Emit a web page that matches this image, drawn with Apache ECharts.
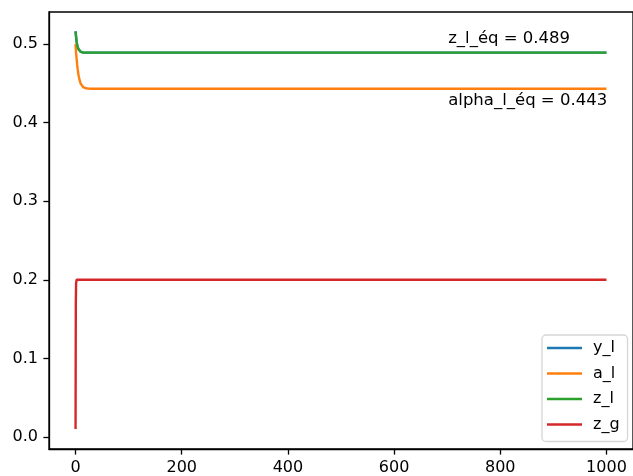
<!DOCTYPE html>
<html><head><meta charset="utf-8">
<script src="https://cdn.jsdelivr.net/npm/echarts@6/dist/echarts.min.js"></script>
<style>html,body{margin:0;padding:0;background:#fff}#c{width:633px;height:476px}</style>
</head><body><div id="c"></div>
<script>
// time points
const t   = [0, 0.5, 1, 2, 3, 4, 5, 6, 8, 10, 12, 15, 20, 25, 30, 40, 50, 100, 200, 300, 400, 500, 600, 700, 800, 900, 1000];
// series values
const zL  = [0.516, 0.513, 0.509, 0.503, 0.499, 0.496, 0.494, 0.493, 0.491, 0.490, 0.4895, 0.489, 0.489, 0.489, 0.489, 0.489, 0.489, 0.489, 0.489, 0.489, 0.489, 0.489, 0.489, 0.489, 0.489, 0.489, 0.489];
const yL  = [0.516, 0.513, 0.509, 0.503, 0.499, 0.496, 0.494, 0.493, 0.491, 0.490, 0.4895, 0.489, 0.489, 0.489, 0.489, 0.489, 0.489, 0.489, 0.489, 0.489, 0.489, 0.489, 0.489, 0.489, 0.489, 0.489, 0.489];
const aL  = [0.500, 0.494, 0.489, 0.481, 0.474, 0.468, 0.463, 0.459, 0.453, 0.449, 0.4465, 0.4447, 0.4437, 0.4432, 0.443, 0.443, 0.443, 0.443, 0.443, 0.443, 0.443, 0.443, 0.443, 0.443, 0.443, 0.443, 0.443];
const zG  = [0.010, 0.170, 0.195, 0.200, 0.200, 0.200, 0.200, 0.200, 0.200, 0.200, 0.200, 0.200, 0.200, 0.200, 0.200, 0.200, 0.200, 0.200, 0.200, 0.200, 0.200, 0.200, 0.200, 0.200, 0.200, 0.200, 0.200];
const seriesNames = ['y_l', 'a_l', 'z_l', 'z_g'];
const xTicks = [0, 200, 400, 600, 800, 1000];
const yTicks = [0, 0.1, 0.2, 0.3, 0.4, 0.5];
// annotations
const annX = 700;
const zEqText = 'z_l_éq = 0.489';
const zEqY = 0.5064;
const aEqText = 'alpha_l_éq = 0.443';
const aEqY = 0.4275;

const colors = ['#1f77b4', '#ff7f0e', '#2ca02c', '#d62728'];
const FONT = 'DejaVu Sans';
const pair = (ys) => t.map((x, i) => [x, ys[i]]);
const lineSeries = (name, ys, c) => ({
  name, type: 'line', data: pair(ys), symbol: 'none', showSymbol: false,
  lineStyle: {color: c, width: 2.4}, itemStyle: {color: c}, animation: false, z: 2,
  emphasis: {disabled: true}
});
const annSeries = (txt, y) => ({
  type: 'scatter', data: [[annX, y]], symbolSize: 0, silent: true, animation: false,
  emphasis: {disabled: true},
  label: {show: true, position: 'right', distance: 1, formatter: txt,
    fontFamily: FONT, fontSize: 16.5, color: '#000000', opacity: 1}
});

const chart = echarts.init(document.getElementById('c'), null, {renderer: 'canvas'});
chart.setOption({
  backgroundColor: '#fff',
  animation: false,
  grid: {left: 49, top: 12, width: 587, height: 437, show: true, borderColor: '#000', borderWidth: 1.3, containLabel: false},
  xAxis: {
    type: 'value', min: -50, max: 1050,
    axisLine: {show: true, onZero: false, lineStyle: {color: '#000', width: 1.3}},
    axisTick: {show: true, length: 5.6, lineStyle: {color: '#000', width: 1.3}, customValues: xTicks},
    axisLabel: {show: true, margin: 11, fontFamily: FONT, fontSize: 16, color: '#000', customValues: xTicks,
      formatter: v => String(v)},
    splitLine: {show: false}
  },
  yAxis: {
    type: 'value', min: -0.0153, max: 0.5407,
    axisLine: {show: true, onZero: false, lineStyle: {color: '#000', width: 1.3}},
    axisTick: {show: true, length: 5.6, lineStyle: {color: '#000', width: 1.3}, customValues: yTicks},
    axisLabel: {show: true, margin: 11, fontFamily: FONT, fontSize: 16, color: '#000', customValues: yTicks,
      formatter: v => v.toFixed(1)},
    splitLine: {show: false}
  },
  legend: {
    data: seriesNames, orient: 'vertical', left: 542, top: 335,
    padding: [5, 8, 9, 5], itemGap: 9.5, itemWidth: 35, itemHeight: 2.4, icon: 'rect',
    backgroundColor: 'rgba(255,255,255,0.8)', borderColor: '#d6d6d6', borderWidth: 1.3, borderRadius: 4,
    textStyle: {fontFamily: FONT, fontSize: 16, color: '#000', lineHeight: 16, padding: [0, 0, 0, 6]},
    itemStyle: {opacity: 1}
  },
  series: [
    lineSeries('y_l', yL, colors[0]),
    lineSeries('a_l', aL, colors[1]),
    lineSeries('z_l', zL, colors[2]),
    lineSeries('z_g', zG, colors[3]),
    annSeries(zEqText, zEqY),
    annSeries(aEqText, aEqY)
  ]
});
</script></body></html>
